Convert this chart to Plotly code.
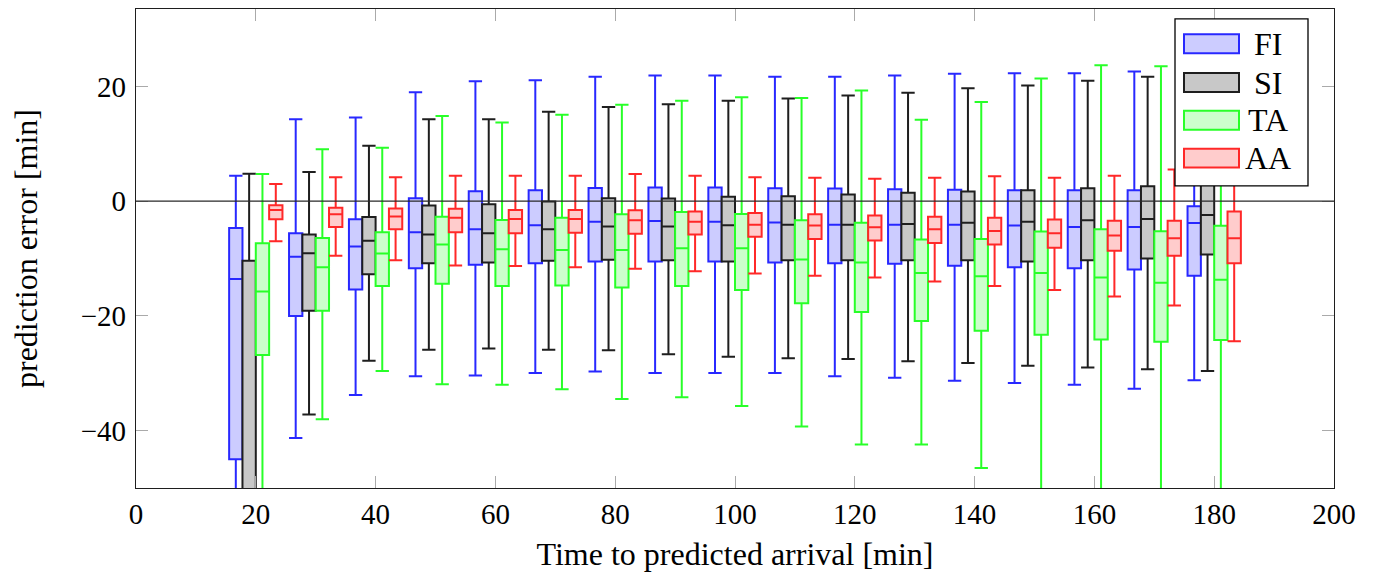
import plotly.graph_objects as go

# time to predicted arrival [min]
times = [20, 30, 40, 50, 60, 70, 80, 90, 100, 110, 120, 130, 140, 150, 160, 170, 180]

# box statistics (prediction error [min])
fi_hi = [4.45, 14.27, 14.6, 19.0, 20.9, 21.07, 21.7, 21.9, 21.9, 21.7, 21.7, 21.9, 22.2, 22.3, 22.3, 22.6, 22.5]
fi_q3 = [-4.67, -5.6, -3.17, 0.52, 1.73, 1.9, 2.3, 2.4, 2.4, 2.25, 2.2, 2.1, 1.97, 1.9, 1.9, 1.9, -0.87]
fi_med = [-13.56, -9.7, -7.9, -5.4, -4.9, -4.2, -3.57, -3.46, -3.6, -3.7, -4.1, -4.1, -4.1, -4.26, -4.5, -4.5, -3.8]
fi_q1 = [-45.0, -20.0, -15.4, -11.7, -11.1, -10.8, -10.5, -10.5, -10.5, -10.7, -10.8, -10.9, -11.25, -11.5, -11.7, -11.9, -13.0]
fi_lo = [-58.0, -41.3, -33.8, -30.5, -30.4, -29.95, -29.7, -29.95, -29.95, -29.95, -30.5, -30.8, -31.3, -31.7, -32.0, -32.7, -31.2]

si_hi = [4.8, 5.08, 9.65, 14.27, 14.27, 15.6, 16.4, 16.9, 17.5, 17.9, 18.4, 18.9, 19.7, 20.15, 21.0, 21.7, 22.0]
si_q3 = [-10.4, -5.8, -2.77, -0.74, -0.52, -0.05, 0.52, 0.47, 0.76, 0.87, 1.16, 1.45, 1.68, 1.9, 2.25, 2.6, 3.5]
si_med = [-52.0, -9.06, -6.9, -5.8, -5.6, -4.9, -4.4, -4.4, -4.2, -4.1, -4.1, -3.98, -3.75, -3.57, -3.34, -3.1, -2.4]
si_q1 = [-58.0, -19.1, -12.75, -10.8, -10.7, -10.4, -10.2, -10.3, -10.5, -10.3, -10.3, -10.3, -10.3, -10.5, -10.3, -10.0, -9.3]
si_lo = [-70.0, -37.2, -27.8, -25.9, -25.7, -25.9, -26.0, -26.7, -27.1, -27.4, -27.5, -27.9, -28.2, -28.7, -29.0, -29.3, -29.6]

ta_hi = [4.74, 9.07, 9.3, 14.84, 13.7, 15.07, 16.8, 17.5, 18.1, 18.0, 19.3, 14.2, 17.3, 21.4, 23.7, 23.5, 23.5]
ta_q3 = [-7.35, -6.4, -5.4, -2.7, -3.3, -2.9, -2.3, -1.9, -2.25, -3.34, -3.75, -6.7, -6.6, -5.3, -4.9, -5.25, -4.3]
ta_med = [-15.76, -11.5, -9.1, -7.55, -8.4, -8.5, -8.5, -8.2, -8.2, -10.15, -10.7, -12.5, -13.1, -12.5, -13.3, -14.2, -13.7]
ta_q1 = [-26.8, -19.1, -14.8, -14.4, -14.8, -14.7, -15.06, -14.8, -15.5, -17.8, -19.3, -20.9, -22.6, -23.3, -24.1, -24.5, -24.2]
ta_lo = [-60.0, -38.0, -29.6, -31.9, -32.0, -32.8, -34.5, -34.2, -35.7, -39.3, -42.4, -42.4, -46.5, -55.0, -57.0, -58.0, -60.0]

aa_hi = [3.0, 4.16, 4.16, 4.45, 4.45, 4.45, 4.74, 4.45, 4.16, 4.1, 3.93, 4.1, 4.33, 4.1, 4.45, 5.5, 6.5]
aa_q3 = [-0.69, -1.15, -1.26, -1.3, -1.56, -1.56, -1.6, -1.78, -2.07, -2.3, -2.5, -2.7, -2.9, -3.2, -3.4, -3.4, -1.78]
aa_med = [-1.56, -2.3, -2.65, -2.9, -3.1, -3.1, -3.34, -3.6, -4.1, -4.26, -4.55, -4.9, -5.2, -5.6, -6.0, -6.46, -6.46]
aa_q1 = [-3.17, -4.5, -4.9, -5.4, -5.6, -5.5, -5.7, -5.8, -6.2, -6.6, -6.86, -7.27, -7.56, -8.1, -8.66, -9.5, -10.8]
aa_lo = [-6.98, -9.5, -10.3, -11.2, -11.3, -11.5, -11.8, -12.2, -12.6, -13.0, -13.3, -14.0, -14.8, -15.5, -16.6, -18.2, -24.4]

names = ['FI', 'SI', 'TA', 'AA']
line_colors = ['rgb(40,40,255)', 'rgb(30,30,30)', 'rgb(40,255,40)', 'rgb(255,40,40)']
fill_colors = ['rgb(204,204,255)', 'rgb(200,200,200)', 'rgb(204,255,204)', 'rgb(255,204,204)']
stats = [
    (fi_q1, fi_med, fi_q3, fi_lo, fi_hi),
    (si_q1, si_med, si_q3, si_lo, si_hi),
    (ta_q1, ta_med, ta_q3, ta_lo, ta_hi),
    (aa_q1, aa_med, aa_q3, aa_lo, aa_hi),
]

FONT = 'Liberation Serif'

fig = go.Figure()

for name, lc, fc, (q1, med, q3, lo, hi) in zip(names, line_colors, fill_colors, stats):
    fig.add_trace(go.Box(name=name, x=times,
                         q1=q1, median=med, q3=q3,
                         lowerfence=lo, upperfence=hi,
                         boxpoints=False, whiskerwidth=1,
                         line=dict(color=lc, width=2),
                         fillcolor=fc, showlegend=False,
                         hoverinfo='skip'))

# page has an 8px body margin, so the figure is drawn 8px in from the corner
W, H = 1360, 564
L, R, T, B = 128, 1326, 0, 482

def px(x):
    # reference pixel -> paper x
    return (x - 8 - L) / (R - L)

def py(y):
    return 1 - (y - 8 - T) / (B - T)

shapes = []
# horizontal line at zero, on top of the boxes
shapes.append(dict(type='line', xref='paper', yref='y', x0=0, x1=1, y0=0, y1=0,
                   line=dict(color='rgb(40,40,40)', width=1.4), layer='above'))
# legend frame
shapes.append(dict(type='rect', xref='paper', yref='paper',
                   x0=px(1175), x1=px(1308), y0=py(186), y1=py(18),
                   line=dict(color='black', width=1.3), fillcolor='white', layer='above'))

annotations = []
row_y = [43, 82, 120, 158]
for name, lc, fc, yc in zip(names, line_colors, fill_colors, row_y):
    shapes.append(dict(type='rect', xref='paper', yref='paper',
                       x0=px(1184), x1=px(1239), y0=py(yc + 9.5), y1=py(yc - 9.5),
                       line=dict(color=lc, width=2), fillcolor=fc, layer='above'))
    annotations.append(dict(xref='paper', yref='paper', x=px(1268), y=py(yc),
                            text=name, showarrow=False, xanchor='center', yanchor='middle',
                            font=dict(family=FONT, size=32, color='black')))

fig.update_layout(
    width=W, height=H,
    margin=dict(l=L, r=W - R, t=T, b=H - B),
    paper_bgcolor='white', plot_bgcolor='white',
    boxmode='group', boxgap=0.11, boxgroupgap=0,
    font=dict(family=FONT, size=29, color='black'),
    shapes=shapes, annotations=annotations,
)

fig.update_xaxes(range=[0, 200], tickvals=list(range(0, 201, 20)),
                 ticks='inside', ticklen=12, tickwidth=1.3, tickcolor='rgb(170,170,170)',
                 showline=True, linecolor='rgb(30,30,30)', linewidth=1.4, mirror='ticks',
                 showgrid=False, zeroline=False, ticklabelstandoff=0,
                 title=dict(text='Time to predicted arrival [min]', standoff=20,
                            font=dict(family=FONT, size=32)))
fig.update_yaxes(range=[-50, 33.5], tickvals=[-40, -20, 0, 20],
                 ticks='inside', ticklen=12, tickwidth=1.3, tickcolor='rgb(170,170,170)',
                 showline=True, linecolor='rgb(30,30,30)', linewidth=1.4, mirror='ticks',
                 showgrid=False, zeroline=False, ticklabelstandoff=3,
                 title=dict(text='prediction error [min]', standoff=36,
                            font=dict(family=FONT, size=32)))

fig.write_html("out.html")
